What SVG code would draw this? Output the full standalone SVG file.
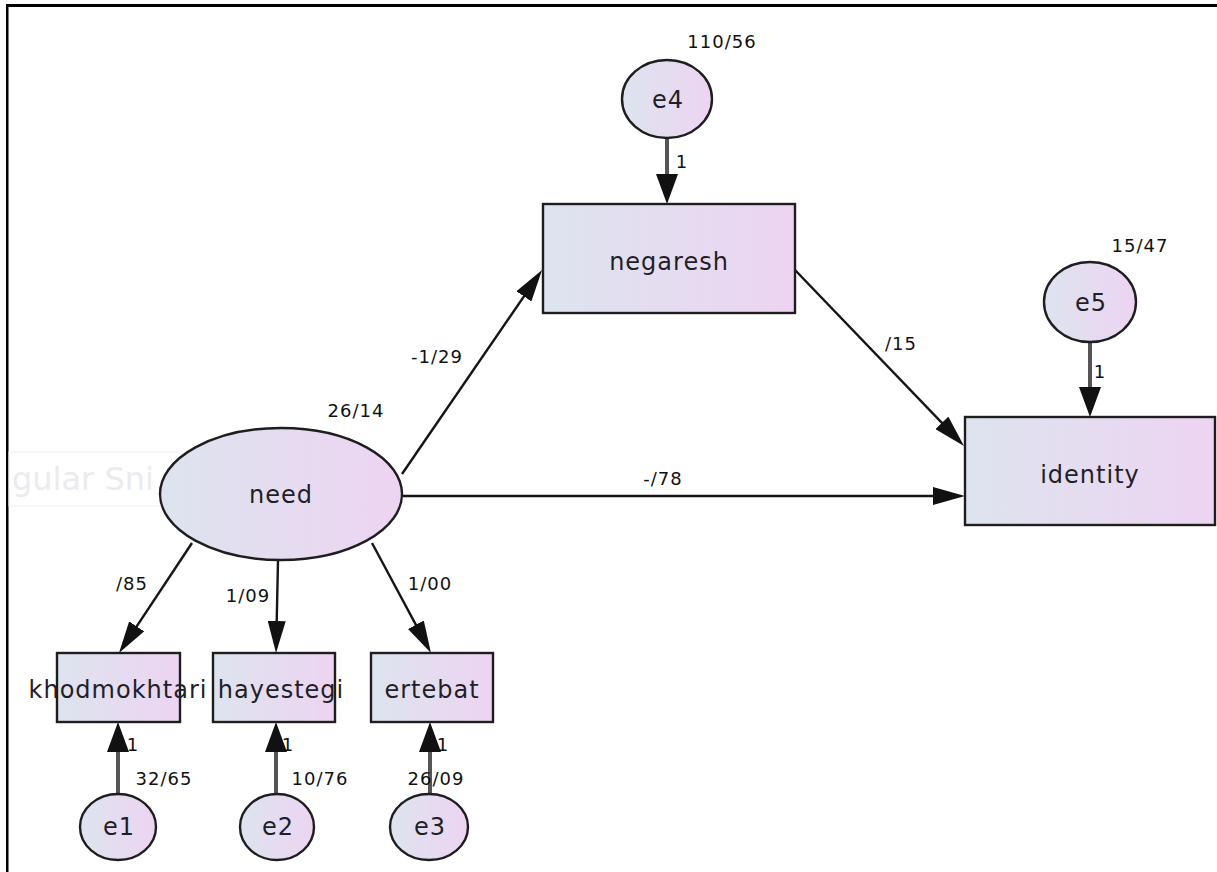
<svg xmlns="http://www.w3.org/2000/svg" width="1217" height="872" viewBox="0 0 1217 872">
<style>
.node{stroke:#1e1e1e;stroke-width:2.4;fill:url(#g)}
.lbl{font-family:"DejaVu Sans",sans-serif;font-size:24px;letter-spacing:1px;fill:#1f1f28;text-anchor:middle}
.num{font-family:"DejaVu Sans",sans-serif;font-size:18px;letter-spacing:1px;fill:#111;text-anchor:middle}
.main{stroke:#151515;stroke-width:2.4;fill:none}
.err{stroke:#555;stroke-width:4;fill:none}
</style>
<defs>
<linearGradient id="g" x1="0" y1="0" x2="1" y2="0">
<stop offset="0" stop-color="#dde4ee"/>
<stop offset="1" stop-color="#edd4f2"/>
</linearGradient>
<marker id="ma" markerUnits="userSpaceOnUse" markerWidth="32" markerHeight="18" refX="24" refY="9" orient="auto">
<path d="M0,0 L32,9 L0,18 Z" fill="#111"/>
</marker>
<marker id="mb" markerUnits="userSpaceOnUse" markerWidth="30" markerHeight="22" refX="20" refY="11" orient="auto">
<path d="M0,0 L30,11 L0,22 Z" fill="#111"/>
</marker>
</defs>
<rect x="0" y="0" width="1217" height="872" fill="#fff"/>
<rect x="6" y="4" width="1211" height="3" fill="#000"/>
<rect x="6" y="4" width="2.5" height="868" fill="#000"/>
<g id="ghost">
<rect x="9" y="452" width="321" height="54" fill="none" stroke="#f0f0f2" stroke-width="1"/>
<text x="12" y="490" font-family="DejaVu Sans,sans-serif" font-size="32" fill="#ebebef">gular Sni</text>
</g>
<g id="connectors">
<line class="main" x1="402" y1="474" x2="537.5" y2="276.6" marker-end="url(#ma)"/>
<line class="main" x1="403" y1="496" x2="957" y2="496" marker-end="url(#ma)"/>
<line class="main" x1="795" y1="270" x2="958.5" y2="440.2" marker-end="url(#ma)"/>
<line class="main" x1="192" y1="543" x2="123.4" y2="646.3" marker-end="url(#ma)"/>
<line class="main" x1="278" y1="561" x2="276.2" y2="645" marker-end="url(#ma)"/>
<line class="main" x1="372" y1="543" x2="427.2" y2="645.9" marker-end="url(#ma)"/>
<line class="err" x1="667" y1="138" x2="667" y2="194" marker-end="url(#mb)"/>
<line class="err" x1="1090" y1="342" x2="1090" y2="407" marker-end="url(#mb)"/>
<line class="err" x1="118" y1="794" x2="118" y2="732" marker-end="url(#mb)"/>
<line class="err" x1="276" y1="794" x2="276" y2="732" marker-end="url(#mb)"/>
<line class="err" x1="430" y1="794" x2="430" y2="732" marker-end="url(#mb)"/>
<text class="num" x="437" y="363">-1/29</text>
<text class="num" x="663" y="485">-/78</text>
<text class="num" x="901" y="350">/15</text>
<text class="num" x="132" y="590">/85</text>
<text class="num" x="248" y="602">1/09</text>
<text class="num" x="430" y="590">1/00</text>
<text class="num" x="682" y="168">1</text>
<text class="num" x="1100" y="378">1</text>
<text class="num" x="133" y="751">1</text>
<text class="num" x="288" y="751">1</text>
<text class="num" x="443" y="751">1</text>
</g>
<g id="need">
<ellipse class="node" cx="281" cy="494" rx="121" ry="66"/>
<text class="lbl" x="281" y="503">need</text>
<text class="num" x="356" y="417">26/14</text>
</g>
<g id="negaresh">
<rect class="node" x="543" y="204" width="252" height="109"/>
<text class="lbl" x="669" y="270">negaresh</text>
</g>
<g id="identity">
<rect class="node" x="965" y="417" width="250" height="108"/>
<text class="lbl" x="1090" y="483">identity</text>
</g>
<g id="e4">
<ellipse class="node" cx="667" cy="99" rx="45" ry="39"/>
<text class="lbl" x="668" y="108">e4</text>
<text class="num" x="722" y="48">110/56</text>
</g>
<g id="e5">
<ellipse class="node" cx="1090" cy="302" rx="46" ry="40"/>
<text class="lbl" x="1091" y="311">e5</text>
<text class="num" x="1140" y="252">15/47</text>
</g>
<g id="khodmokhtari">
<rect class="node" x="57" y="653" width="123" height="69"/>
<text class="lbl" x="118" y="698">khodmokhtari</text>
</g>
<g id="hayestegi">
<rect class="node" x="213" y="653" width="122" height="69"/>
<text class="lbl" x="281" y="698">hayestegi</text>
</g>
<g id="ertebat">
<rect class="node" x="371" y="653" width="122" height="69"/>
<text class="lbl" x="432" y="698">ertebat</text>
</g>
<g id="e1">
<ellipse class="node" cx="118" cy="827" rx="38" ry="33"/>
<text class="lbl" x="119" y="835">e1</text>
<text class="num" x="164" y="785">32/65</text>
</g>
<g id="e2">
<ellipse class="node" cx="277" cy="827" rx="37" ry="33"/>
<text class="lbl" x="278" y="835">e2</text>
<text class="num" x="320" y="785">10/76</text>
</g>
<g id="e3">
<ellipse class="node" cx="429" cy="827" rx="39" ry="33"/>
<text class="lbl" x="430" y="835">e3</text>
<text class="num" x="436" y="785">26/09</text>
</g>
</svg>
